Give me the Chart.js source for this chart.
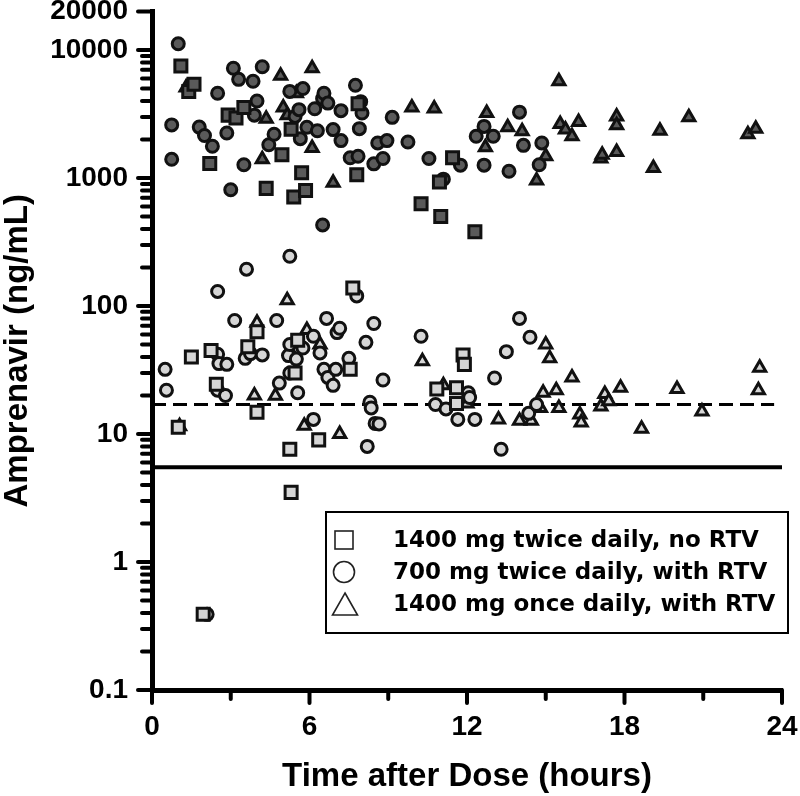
<!DOCTYPE html>
<html>
<head>
<meta charset="utf-8">
<script src="https://cdn.jsdelivr.net/npm/chart.js@4.4.1/dist/chart.umd.min.js"></script>
<style>
  html, body { margin: 0; padding: 0; background: #fff; }
  #wrap { position: relative; width: 800px; height: 796px; }
</style>
</head>
<body>
<div id="wrap"><canvas id="chart" width="800" height="796"></canvas></div>
<script>
// [time after dose (h), amprenavir (ng/mL)].
// Dark markers = upper cluster, light markers = lower cluster.
const squaresDark = [
  [1.1, 7500], [1.4, 4750], [1.6, 5400], [2.2, 1300], [2.9, 3100], [3.2, 2950],
  [3.5, 3550], [4.35, 830], [4.95, 1520], [5.3, 2400], [5.4, 710], [5.7, 1100],
  [5.85, 800], [7.85, 3800], [7.8, 1060], [10.25, 630], [10.95, 930], [11.0, 500],
  [11.45, 1440], [12.3, 380]
];
const circlesDark = [
  [1.0, 11200], [0.75, 2600], [0.75, 1400], [1.8, 2500], [2.0, 2150], [2.3, 1770],
  [2.5, 4600], [2.85, 2250], [3.0, 810], [3.1, 7200], [3.3, 5900], [3.5, 1270],
  [3.85, 5700], [3.9, 3100], [4.0, 4000], [4.2, 7400], [4.45, 1820], [4.65, 2200],
  [5.25, 4750], [5.45, 3030], [5.6, 3420], [5.65, 2030], [5.75, 5000], [5.9, 2490],
  [6.2, 3480], [6.3, 2340], [6.5, 4170], [6.5, 430], [6.55, 4600], [6.7, 3850],
  [6.9, 2390], [7.2, 3360], [7.2, 1960], [7.55, 1440], [7.75, 5300], [7.85, 1480],
  [7.95, 3950], [8.0, 3220], [7.9, 2430], [8.45, 1290], [8.6, 1880], [8.8, 1420],
  [8.95, 1960], [9.15, 2980], [9.75, 1910], [10.55, 1420], [11.1, 980], [11.75, 1260],
  [12.35, 2120], [12.65, 2530], [12.65, 1260], [13.0, 2120], [13.6, 1130], [14.0, 3270],
  [14.15, 1800], [14.75, 1270], [14.85, 1880]
];
const trianglesDark = [
  [1.3, 5100], [4.2, 1400], [4.35, 2900], [4.9, 6300], [5.0, 3560], [5.15, 3100],
  [5.5, 4600], [6.1, 7200], [6.1, 1720], [6.9, 920], [9.9, 3560], [10.75, 3500],
  [12.7, 1740], [12.75, 3220], [13.55, 2490], [14.1, 2320], [14.65, 955], [15.0, 1480],
  [15.5, 5700], [15.55, 2640], [15.75, 2390], [16.0, 2120], [16.25, 2740], [17.1, 1420],
  [17.15, 1520], [17.7, 3030], [17.7, 2580], [17.7, 1600], [19.1, 1200], [19.35, 2340],
  [20.45, 2980], [22.7, 2200], [23.0, 2430]
];
const squaresLight = [
  [1.0, 11.3], [1.5, 40], [1.95, 0.39], [2.25, 45], [2.45, 24.5], [3.65, 48],
  [4.0, 63], [4.0, 14.8], [5.25, 7.6], [5.3, 3.5], [5.45, 30], [5.55, 54],
  [6.35, 9], [7.55, 32], [7.65, 138], [10.85, 22.5], [11.6, 23], [11.6, 17.3],
  [11.85, 41.5], [11.9, 35]
];
const circlesLight = [
  [0.5, 32], [0.55, 22], [2.1, 0.39], [2.5, 130], [2.5, 42], [2.55, 35.5],
  [2.85, 35], [2.5, 22], [2.8, 20], [3.15, 77], [3.55, 39], [3.6, 194],
  [3.75, 42.5], [4.2, 41.5], [4.75, 77], [4.85, 25], [5.2, 41], [5.25, 245],
  [5.25, 50], [5.25, 30], [5.5, 38.5], [5.55, 21], [5.75, 47], [6.15, 58],
  [6.15, 13], [6.4, 43], [6.55, 32], [6.65, 80], [6.7, 27.7], [6.9, 24],
  [7.0, 32], [7.05, 62], [7.15, 67], [7.5, 39], [7.8, 120], [8.15, 52],
  [8.2, 8], [8.3, 17.7], [8.35, 16], [8.45, 73], [8.5, 12.1], [8.65, 12],
  [8.8, 26.4], [10.25, 58], [10.8, 17], [11.2, 15.7], [11.65, 13], [12.05, 21],
  [12.1, 19.3], [12.3, 13], [13.05, 27.4], [13.3, 7.6], [13.5, 44], [14.0, 80],
  [14.35, 14.5], [14.4, 57], [14.65, 17]
];
const trianglesLight = [
  [1.05, 11.5], [3.9, 20], [4.0, 74], [4.7, 19.9], [5.15, 111], [5.25, 45],
  [5.8, 11.6], [5.9, 65], [6.4, 50], [7.15, 10], [10.3, 37], [11.1, 24],
  [12.0, 17.3], [13.2, 13], [14.0, 12.7], [14.45, 12.7], [14.8, 16], [14.9, 21],
  [15.0, 50], [15.15, 39], [15.4, 22], [15.5, 16], [16.0, 27.7], [16.3, 14.2],
  [16.35, 12.3], [17.1, 16.4], [17.25, 20.5], [17.4, 18], [17.85, 23], [18.65, 11],
  [20.0, 22.5], [20.95, 15], [23.1, 22], [23.15, 33]
];

// horizontal reference lines
const dashedLine = [[0, 17], [23.7, 17]];
const solidLine = [[0, 5.5], [24, 5.5]];

const groupLabels = [
  '1400 mg twice daily, no RTV',
  '700 mg twice daily, with RTV',
  '1400 mg once daily, with RTV'
];

const xMajorTicks = [0, 6, 12, 18, 24];
const xMinorTicks = [3, 9, 15, 21];
const yMajorTicks = [0.1, 1, 10, 100, 1000, 10000, 20000];
const yTickLabels = ['0.1', '1', '10', '100', '1000', '10000', '20000'];
const yMinorTicks = [
  0.2, 0.3, 0.4, 0.5, 0.6, 0.7, 0.8, 0.9,
  2, 3, 4, 5, 6, 7, 8, 9,
  20, 30, 40, 50, 60, 70, 80, 90,
  200, 300, 400, 500, 600, 700, 800, 900,
  2000, 3000, 4000, 5000, 6000, 7000, 8000, 9000
];

const AXIS_FONT = 'Liberation Sans, Arial, Helvetica, sans-serif';
const DARK = '#5a5a5a';
const LIGHT = '#d6d6d6';

function toXY(pts) { return pts.map((p) => ({ x: p[0], y: p[1] })); }

function markers(label, pts, style, radius, fill) {
  return {
    type: 'scatter', label, data: toXY(pts), order: 0,
    pointStyle: style, pointRadius: radius, pointHoverRadius: radius,
    backgroundColor: fill, borderColor: '#111', borderWidth: 3, pointBorderWidth: 3
  };
}

function refLine(pts, dash) {
  return {
    type: 'line', data: toXY(pts), order: 1,
    borderColor: '#000', borderWidth: dash.length ? 3 : 4, borderDash: dash,
    pointRadius: 0, fill: false, tension: 0
  };
}

// Major/minor axis ticks of different length, drawn on the scales' own pixels.
const axisTicks = {
  id: 'axisTicks',
  afterDatasetsDraw(chart) {
    const { ctx, chartArea, scales: { x, y } } = chart;
    ctx.save();
    ctx.strokeStyle = '#000';
    ctx.lineWidth = 4;
    ctx.lineCap = 'round';
    const tick = (x1, y1, x2, y2) => { ctx.beginPath(); ctx.moveTo(x1, y1); ctx.lineTo(x2, y2); ctx.stroke(); };
    yMajorTicks.forEach((v) => { const p = y.getPixelForValue(v); tick(chartArea.left, p, chartArea.left - 14, p); });
    yMinorTicks.forEach((v) => { const p = y.getPixelForValue(v); tick(chartArea.left, p, chartArea.left - 10, p); });
    xMajorTicks.forEach((v) => { const p = x.getPixelForValue(v); tick(p, chartArea.bottom, p, chartArea.bottom + 13); });
    xMinorTicks.forEach((v) => { const p = x.getPixelForValue(v); tick(p, chartArea.bottom, p, chartArea.bottom + 9); });
    ctx.restore();
  }
};

// Boxed legend with open symbols, sitting over the lower right of the plot.
const boxLegend = {
  id: 'boxLegend',
  afterDraw(chart) {
    const ctx = chart.ctx;
    ctx.save();
    ctx.fillStyle = '#fff';
    ctx.fillRect(326, 512, 462, 121);
    ctx.strokeStyle = '#000';
    ctx.lineWidth = 2;
    ctx.strokeRect(326, 512, 462, 121);

    ctx.lineWidth = 1.6;
    ctx.strokeStyle = '#222';
    const cx = 344;
    const rows = [540, 572, 604];
    // square
    ctx.strokeRect(cx - 9, rows[0] - 9, 18, 18);
    // circle
    ctx.beginPath(); ctx.arc(cx, rows[1], 10.5, 0, Math.PI * 2); ctx.stroke();
    // triangle
    ctx.beginPath();
    ctx.moveTo(cx + 1, rows[2] - 11);
    ctx.lineTo(cx + 13.5, rows[2] + 11);
    ctx.lineTo(cx - 11.5, rows[2] + 11);
    ctx.closePath(); ctx.stroke();

    ctx.fillStyle = '#000';
    ctx.font = 'bold 23px "DejaVu Sans", Verdana, sans-serif';
    ctx.textBaseline = 'middle';
    ctx.textAlign = 'left';
    groupLabels.forEach((t, i) => ctx.fillText(t, 393, rows[i] + 1));
    ctx.restore();
  }
};

new Chart(document.getElementById('chart'), {
  data: {
    datasets: [
      markers(groupLabels[0], squaresDark, 'rect', 8.5, DARK),
      markers(groupLabels[1], circlesDark, 'circle', 6, DARK),
      markers(groupLabels[2], trianglesDark, 'triangle', 7, DARK),
      markers(groupLabels[0], squaresLight, 'rect', 8.5, LIGHT),
      markers(groupLabels[1], circlesLight, 'circle', 6, LIGHT),
      markers(groupLabels[2], trianglesLight, 'triangle', 7, LIGHT),
      refLine(dashedLine, [14, 7]),
      refLine(solidLine, [])
    ]
  },
  options: {
    responsive: false,
    animation: false,
    devicePixelRatio: 1,
    layout: { padding: { top: 10, right: 18, left: 0, bottom: 0 } },
    plugins: { legend: { display: false }, tooltip: { enabled: false } },
    scales: {
      x: {
        type: 'linear', min: 0, max: 24,
        afterBuildTicks: (s) => { s.ticks = xMajorTicks.map((v) => ({ value: v })); },
        afterFit: (s) => { s.height = 106; s.paddingLeft = 0; s.paddingRight = 0; },
        grid: { display: false, drawTicks: false },
        border: { display: true, color: '#000', width: 5 },
        ticks: {
          autoSkip: false, maxRotation: 0, padding: 20, color: '#000',
          font: { family: AXIS_FONT, size: 28, weight: 'bold' },
          callback: (v) => String(v)
        },
        title: {
          display: true, text: 'Time after Dose (hours)', color: '#000',
          font: { family: AXIS_FONT, size: 33, weight: 'bold', lineHeight: 1 },
          padding: { top: 0, bottom: 3 }
        }
      },
      y: {
        type: 'logarithmic', min: 0.1, max: 20000,
        afterBuildTicks: (s) => { s.ticks = yMajorTicks.map((v) => ({ value: v })); },
        afterFit: (s) => { s.width = 152; s.paddingTop = 0; s.paddingBottom = 0; },
        grid: { display: false, drawTicks: false },
        border: { display: true, color: '#000', width: 5 },
        ticks: {
          autoSkip: false, padding: 24, color: '#000',
          font: { family: AXIS_FONT, size: 28, weight: 'bold' },
          callback: (v) => { const i = yMajorTicks.indexOf(v); return i >= 0 ? yTickLabels[i] : ''; }
        },
        title: {
          display: true, text: 'Amprenavir (ng/mL)', color: '#000',
          font: { family: AXIS_FONT, size: 33, weight: 'bold', lineHeight: 1 },
          padding: { top: 1, bottom: 0 }
        }
      }
    }
  },
  plugins: [axisTicks, boxLegend]
});
</script>
</body>
</html>
